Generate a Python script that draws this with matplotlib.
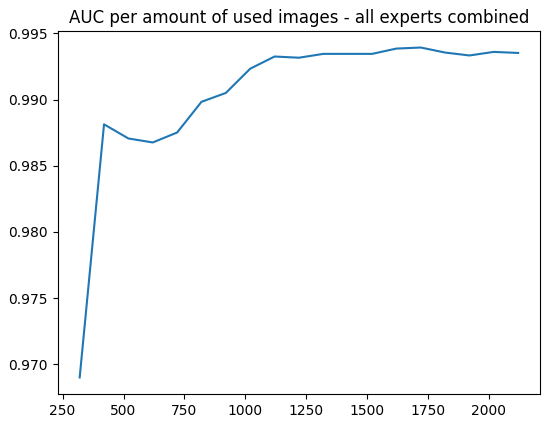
import matplotlib
matplotlib.use('Agg')
import matplotlib.pyplot as plt

n_images = list(range(320, 2121, 100))
auc = [0.96901, 0.98813, 0.98706, 0.98676, 0.98751, 0.98983, 0.99050, 0.99233,
       0.99325, 0.99316, 0.99345, 0.99345, 0.99345, 0.99385, 0.99393, 0.99355,
       0.99333, 0.99360, 0.99352]

fig = plt.figure(figsize=(5.5, 4.25), dpi=100)
ax = fig.add_axes([0.105, 0.073, 0.877, 0.854])
ax.plot(n_images, auc)
ax.set_title('AUC per amount of used images - all experts combined')
fig.savefig('out.png')
